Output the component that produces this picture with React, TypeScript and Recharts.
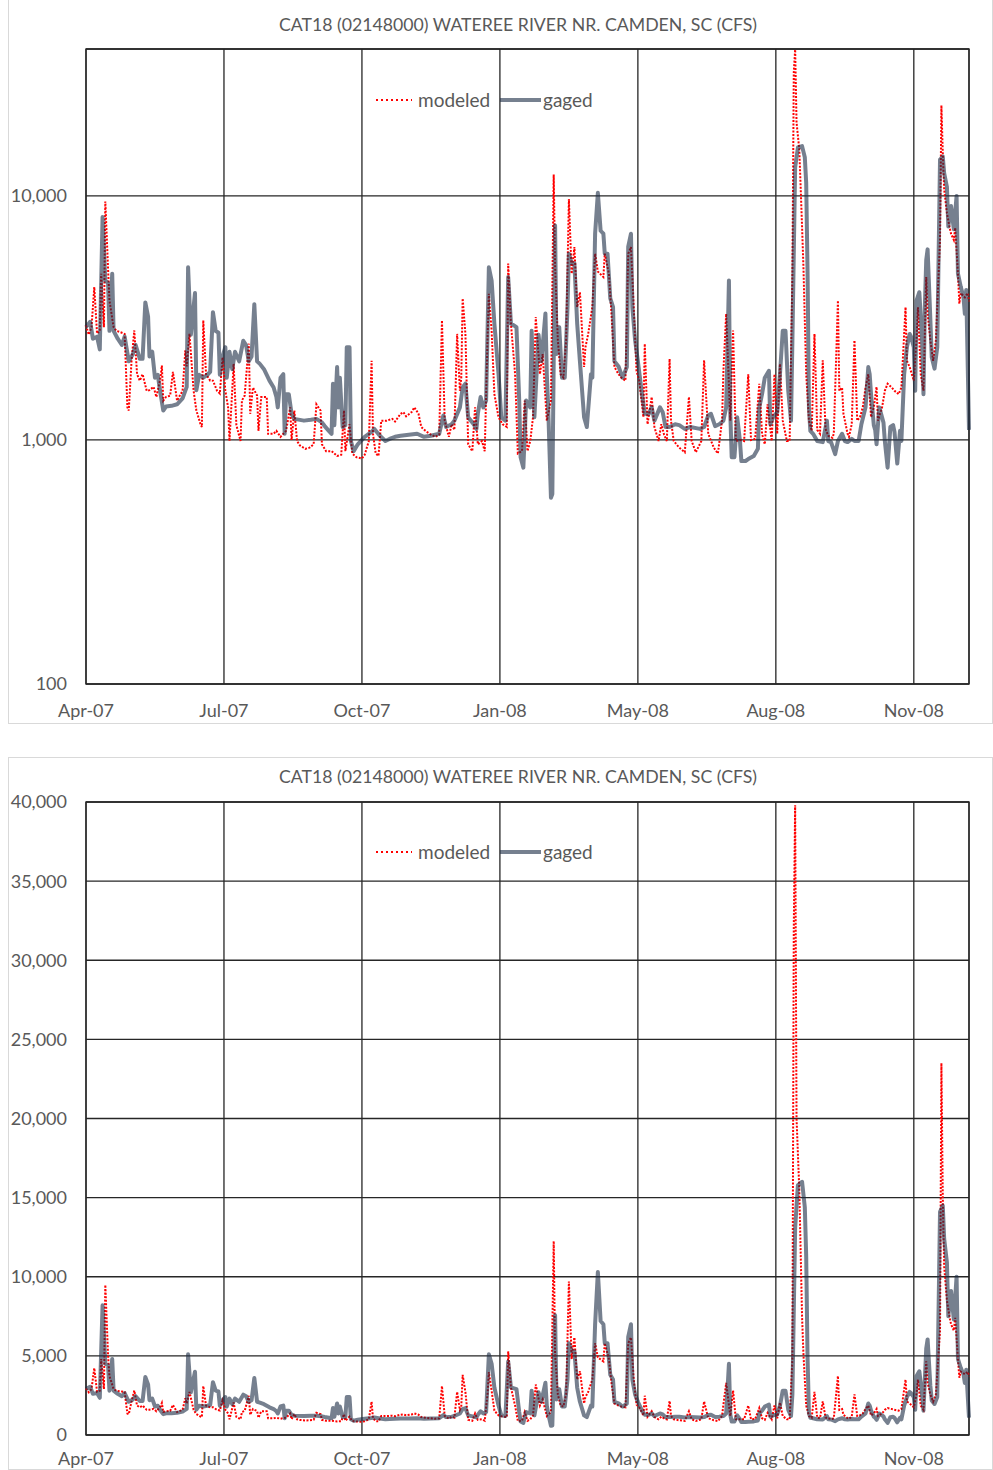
import { LineChart, Line, XAxis, YAxis, CartesianGrid, ReferenceArea, Legend } from 'recharts';

// x axis is days since 1-Apr-2007, Excel-style major unit of 100 days
const xTicks = [0, 100, 200, 300, 400, 500, 600];
const xTickLabels = ['Apr-07', 'Jul-07', 'Oct-07', 'Jan-08', 'May-08', 'Aug-08', 'Nov-08'];
const logTicks = [100, 1000, 10000];
const linearTicks = [0, 5000, 10000, 15000, 20000, 25000, 30000, 35000, 40000];

const chartTitle = 'CAT18 (02148000) WATEREE RIVER NR. CAMDEN, SC (CFS)';

const gagedDays = [
  0, 3, 5, 8, 10, 12, 14, 16, 17, 19, 20, 23, 26, 28, 31, 34, 36, 39, 41, 43, 45, 46, 48, 50, 52, 54, 56, 58, 62, 66,
  70, 73, 74, 76, 79, 80, 82, 85, 88, 90, 92, 94, 96, 97, 99, 101, 102, 104, 106, 108, 111, 114, 116, 118, 120, 122,
  124, 126, 129, 131, 133, 136, 138, 139, 141, 143, 144, 145, 147, 149, 151, 158, 163, 167, 171, 173, 176, 178, 179,
  180, 182, 183, 184, 186, 188, 189, 191, 192, 194, 197, 202, 207, 209, 213, 217, 220, 224, 228, 234, 240, 245, 250,
  256, 259, 261, 265, 267, 271, 273, 275, 277, 281, 283, 284, 286, 288, 290, 292, 294, 296, 299, 301, 304, 306, 308,
  312, 314, 315, 317, 319, 322, 323, 325, 328, 330, 333, 334, 335, 337, 338, 340, 341, 343, 345, 347, 349, 350, 352,
  354, 356, 358, 361, 363, 366, 367, 369, 371, 373, 375, 376, 378, 380, 382, 383, 386, 388, 389, 392, 393, 395, 396,
  398, 400, 403, 405, 408, 410, 412, 416, 418, 420, 423, 427, 430, 434, 438, 445, 448, 451, 453, 456, 459, 462, 464,
  466, 467, 468, 470, 472, 474, 475, 478, 480, 484, 487, 488, 490, 492, 495, 496, 498, 501, 503, 505, 507, 509, 511,
  512, 514, 516, 519, 521, 522, 523, 524, 525, 527, 530, 534, 537, 538, 540, 543, 545, 548, 550, 552, 555, 557, 560,
  562, 565, 567, 568, 569, 571, 572, 573, 574, 575, 578, 579, 581, 583, 585, 586, 588, 590, 591, 593, 595, 597, 598,
  600, 601, 602, 604, 606, 607, 608, 609, 610, 612, 613, 615, 617, 619, 621, 622, 624, 625, 627, 629, 631, 632, 634,
  636, 637, 638, 640,
];
const gagedCfs = [
  2900, 3050, 2600, 2650, 2350, 8200, 4500, 4400, 2800, 4800, 2800, 2600, 2450, 2650, 2100, 2250, 2450, 2150, 2150,
  3660, 3200, 2200, 2300, 1800, 1850, 1550, 1320, 1370, 1380, 1400, 1480, 1650, 5100, 2700, 4000, 1600, 1850, 1800,
  1850, 1900, 3340, 2800, 2750, 1850, 2200, 2400, 1800, 2300, 1950, 2300, 2100, 2550, 2450, 2100, 2200, 3600, 2100,
  2050, 1950, 1850, 1750, 1640, 1500, 1360, 1800, 1860, 1060, 1540, 1540, 1280, 1220, 1200, 1210, 1220, 1180, 1140,
  1090, 1060, 1700, 1150, 1990, 1360, 1800, 1130, 1150, 2400, 2400, 990, 900, 960, 1030, 1080, 1110, 1040, 990, 1010,
  1030, 1040, 1050, 1060, 1030, 1040, 1060, 1260, 1130, 1160, 1200, 1360, 1640, 1700, 1240, 1160, 1110, 1280, 1500,
  1360, 1450, 5100, 4500, 3000, 1860, 1240, 1200, 4650, 3000, 2900, 1450, 850, 770, 1450, 1360, 2800, 1240, 2700,
  2100, 3300, 1860, 1360, 580, 600, 7570, 2250, 2900, 1800, 1800, 3500, 5800, 5300, 5300, 3000, 2100, 1240, 1130,
  1860, 1800, 7000, 10300, 7200, 7000, 5800, 5800, 3800, 3500, 2100, 2000, 1860, 1800, 1990, 6200, 7000, 3500, 2560,
  2100, 1540, 1280, 1280, 1360, 1200, 1360, 1300, 1130, 1130, 1160, 1150, 1110, 1130, 1110, 1130, 1260, 1280, 1140,
  1160, 1200, 1360, 4500, 1280, 850, 850, 1240, 990, 820, 820, 835, 860, 920, 1360, 1540, 1800, 1920, 1160, 1240,
  1300, 1860, 2800, 2800, 1590, 1200, 2560, 13100, 15800, 16000, 14400, 11300, 4800, 1360, 1090, 1060, 990, 980,
  1200, 990, 980, 875, 990, 1060, 990, 980, 1010, 990, 990, 1160, 1360, 1990, 1860, 1540, 1150, 1100, 960, 1150, 1360,
  1180, 990, 770, 1130, 1150, 1080, 800, 1090, 990, 1860, 2400, 2720, 2650, 2400, 1590, 3730, 4030, 2560, 1540, 3510,
  5460, 6040, 3100, 2180, 1960, 2400, 14100, 14500, 12400, 10900, 7500, 9100, 7300, 10000, 4800, 4250, 3840, 3290,
  4120, 1100,
];

const modeledDays = [
  0, 2, 4, 6, 8, 10, 11, 13, 14, 16, 17, 20, 22, 26, 28, 30, 31, 33, 35, 37, 39, 41, 44, 46, 49, 51, 54, 55, 56, 58,
  61, 63, 66, 68, 70, 72, 73, 75, 78, 80, 83, 84, 85, 87, 90, 92, 95, 97, 99, 101, 103, 104, 107, 109, 112, 113, 115,
  118, 119, 121, 124, 125, 127, 131, 132, 136, 138, 141, 143, 145, 148, 149, 151, 153, 155, 159, 162, 165, 167, 170,
  171, 174, 178, 182, 185, 187, 188, 191, 193, 196, 200, 202, 205, 207, 208, 210, 212, 214, 218, 222, 224, 228, 230,
  232, 236, 238, 241, 243, 246, 249, 253, 256, 258, 260, 263, 265, 267, 269, 271, 272, 273, 275, 277, 280, 282, 284,
  287, 289, 291, 292, 294, 296, 299, 302, 305, 306, 308, 311, 313, 316, 318, 320, 322, 324, 326, 329, 331, 334, 336,
  337, 339, 340, 342, 344, 346, 348, 350, 352, 354, 356, 358, 361, 362, 364, 367, 369, 371, 375, 376, 379, 381, 383,
  386, 388, 391, 393, 395, 397, 399, 401, 404, 405, 407, 410, 412, 415, 417, 419, 421, 423, 424, 426, 430, 434, 437,
  439, 442, 446, 448, 451, 455, 458, 461, 462, 464, 467, 469, 471, 475, 477, 480, 482, 485, 488, 490, 492, 494, 497,
  499, 501, 503, 505, 508, 510, 512, 513, 514, 515, 517, 519, 520, 522, 524, 526, 528, 530, 532, 534, 536, 538, 541,
  542, 545, 546, 548, 549, 552, 553, 555, 557, 559, 561, 563, 565, 567, 569, 571, 573, 574, 577, 579, 581, 584, 586,
  589, 591, 594, 595, 597, 600, 602, 603, 605, 607, 609, 610, 612, 614, 616, 619, 620, 621, 622, 624, 626, 627, 629,
  630, 632, 633, 634, 637, 639, 640,
];
const modeledCfs = [
  2950, 2700, 2900, 4230, 2730, 2800, 4800, 2900, 9480, 5000, 3730, 2900, 2800, 2750, 2720, 1360, 1320, 2110, 2810,
  1860, 1750, 1860, 1590, 1600, 1650, 1500, 1800, 2020, 1450, 1500, 1520, 1900, 1450, 1520, 1590, 2330, 2000, 2720,
  1590, 1320, 1160, 1130, 3090, 1860, 1750, 1750, 1590, 1550, 2180, 1590, 1360, 990, 2050, 1150, 990, 1450, 1520,
  2480, 1280, 1640, 1520, 1090, 1500, 1500, 1060, 1060, 1090, 1030, 1060, 1090, 1360, 1000, 1320, 990, 950, 920, 930,
  960, 1400, 1320, 960, 900, 900, 860, 870, 1320, 900, 1160, 880, 850, 840, 870, 990, 2110, 1060, 880, 860, 1200,
  1200, 1220, 1190, 1280, 1300, 1250, 1300, 1360, 1280, 1130, 1090, 1060, 1030, 1050, 3090, 1200, 1030, 1160, 1100,
  2720, 1590, 1800, 3800, 2720, 960, 900, 1360, 960, 990, 900, 2560, 3970, 2800, 1540, 1240, 1160, 1130, 5280, 3000,
  1860, 880, 900, 1450, 900, 990, 1240, 3190, 1860, 2250, 1200, 1360, 1450, 12250, 5120, 2560, 1860, 1800, 2560,
  9700, 4800, 6170, 3500, 4030, 1990, 2400, 2720, 3510, 5800, 4900, 4650, 5800, 4800, 3200, 1990, 1860, 1800, 1750,
  5800, 6170, 3500, 1920, 1750, 1240, 2480, 1160, 1500, 1130, 990, 1160, 1050, 990, 2150, 1200, 990, 930, 890, 1500,
  990, 890, 990, 2120, 1060, 930, 880, 1200, 1920, 3290, 1200, 2810, 990, 1000, 990, 1860, 1000, 1010, 1700, 1060,
  960, 1400, 990, 1860, 1060, 2050, 1200, 990, 990, 4800, 32000, 39800, 20000, 15500, 7500, 5120, 1860, 1200, 1090,
  2720, 1100, 1060, 2120, 1110, 1040, 1020, 1060, 3730, 1590, 1640, 1280, 1060, 1030, 1160, 2560, 1200, 1240, 1360,
  1640, 1860, 1240, 1360, 1650, 1200, 1360, 1590, 1700, 1640, 1590, 1540, 1640, 3500, 2110, 1990, 1750, 2600, 3500,
  1860, 1590, 4650, 3300, 2560, 2110, 2560, 6600, 23500, 15000, 10650, 8500, 7400, 7000, 6600, 7400, 4800, 3620,
  4000, 3840, 4000, 3700,
];

const modeled = modeledDays.map((day, i) => ({ day, cfs: modeledCfs[i] }));
const gaged = gagedDays.map((day, i) => ({ day, cfs: gagedCfs[i] }));

const FONT = 'Lato, "Open Sans", sans-serif';
const TEXT_COLOR = '#595959';
const GRID_COLOR = '#262626';
const RED = '#FF0000';
const GAGED_COLOR = '#1B2B44';
const GAGED_OPACITY = 0.6;

const fmtX = (v: number) => xTickLabels[xTicks.indexOf(v)] ?? '';
const fmtY = (v: number) => v.toLocaleString('en-US');

const LegendContent = () => (
  <svg width={240} height={24} style={{ display: 'block' }}>
    <line x1={6} x2={42} y1={12} y2={12} stroke={RED} strokeWidth={2} strokeDasharray="2 3" />
    <text x={48} y={12} dy="0.35em" fill={TEXT_COLOR} fontSize={19} fontFamily={FONT}>
      modeled
    </text>
    <line
      x1={130}
      x2={171}
      y1={12}
      y2={12}
      stroke={GAGED_COLOR}
      strokeOpacity={GAGED_OPACITY}
      strokeWidth={4}
    />
    <text x={173} y={12} dy="0.35em" fill={TEXT_COLOR} fontSize={19} fontFamily={FONT}>
      gaged
    </text>
  </svg>
);

interface PanelProps {
  top: number;
  height: number;
  plotTop: number;
  plotHeight: number;
  log: boolean;
  legendTop: number;
  titleTop: number;
  xTickMargin: number;
}

function FlowPanel({ top, height, plotTop, plotHeight, log, legendTop, titleTop, xTickMargin }: PanelProps) {
  const yDomain: [number, number] = log ? [100, 40000] : [0, 40000];
  return (
    <>
      <div
        style={{
          position: 'absolute',
          left: 8,
          top,
          width: 985,
          height,
          border: '1px solid #d9d9d9',
          boxSizing: 'border-box',
        }}
      />
      <div
        style={{
          position: 'absolute',
          left: 43,
          width: 950,
          top: top + titleTop,
          textAlign: 'center',
          fontFamily: FONT,
          fontSize: 17.7,
          color: TEXT_COLOR,
          lineHeight: '20px',
        }}
      >
        {chartTitle}
      </div>
      <div style={{ position: 'absolute', left: 0, top }}>
        <LineChart
          width={993}
          height={height}
          margin={{ top: plotTop, right: 24, bottom: height - plotTop - plotHeight - 30, left: 8 }}
        >
          <CartesianGrid stroke={GRID_COLOR} strokeWidth={1.3} />
          <XAxis
            type="number"
            dataKey="day"
            domain={[0, 640]}
            ticks={xTicks}
            interval={0}
            tickFormatter={fmtX}
            axisLine={false}
            tickLine={false}
            tickMargin={xTickMargin}
            height={30}
            tick={{ fill: TEXT_COLOR, fontSize: 18, fontFamily: FONT }}
          />
          <YAxis
            type="number"
            scale={log ? 'log' : 'linear'}
            domain={yDomain}
            allowDataOverflow
            ticks={log ? logTicks : linearTicks}
            interval={0}
            tickFormatter={fmtY}
            axisLine={false}
            tickLine={false}
            tickMargin={13}
            width={78}
            tick={{ fill: TEXT_COLOR, fontSize: 18, fontFamily: FONT }}
          />
          <ReferenceArea
            x1={0}
            x2={640}
            y1={yDomain[0]}
            y2={yDomain[1]}
            fill="none"
            stroke={GRID_COLOR}
            strokeWidth={1.3}
            ifOverflow="visible"
          />
          <Legend
            layout="horizontal"
            verticalAlign="middle"
            align="center"
            content={() => <LegendContent />}
            wrapperStyle={{ top: legendTop, left: 370, width: 240, height: 24 }}
          />
          <Line
            data={modeled}
            dataKey="cfs"
            name="modeled"
            type="linear"
            stroke={RED}
            strokeWidth={2}
            strokeDasharray="2 1.5"
            dot={false}
            activeDot={false}
            isAnimationActive={false}
          />
          <Line
            data={gaged}
            dataKey="cfs"
            name="gaged"
            type="linear"
            stroke={GAGED_COLOR}
            strokeOpacity={GAGED_OPACITY}
            strokeWidth={4}
            strokeLinejoin="round"
            dot={false}
            activeDot={false}
            isAnimationActive={false}
          />
        </LineChart>
      </div>
    </>
  );
}

export default function App() {
  return (
    <div style={{ position: 'relative', width: 993, height: 1470, background: '#fff', overflow: 'hidden' }}>
      <style>{'body { margin: 0; }'}</style>
      <FlowPanel
        top={-1}
        height={725}
        plotTop={50}
        plotHeight={635}
        log
        legendTop={89}
        titleTop={16}
        xTickMargin={14}
      />
      <FlowPanel
        top={757}
        height={713}
        plotTop={45}
        plotHeight={633}
        log={false}
        legendTop={83}
        titleTop={10}
        xTickMargin={11}
      />
    </div>
  );
}
